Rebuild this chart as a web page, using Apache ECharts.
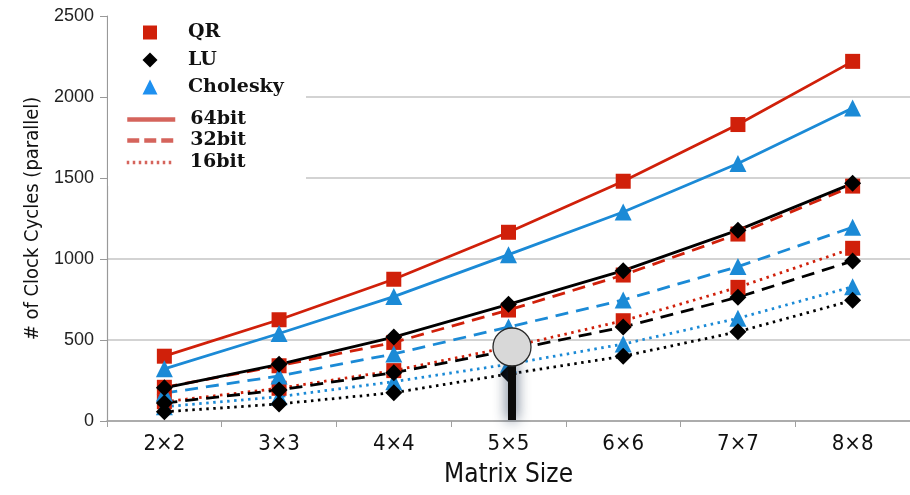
<!DOCTYPE html>
<html>
<head>
<meta charset="utf-8">
<script src="https://cdn.jsdelivr.net/npm/echarts@6/dist/echarts.min.js"></script>
<style>html,body{margin:0;padding:0;background:#fff}#c{width:910px;height:495px}</style>
</head>
<body>
<div id="c"></div>
<script>
var categories = ['2×2', '3×3', '4×4', '5×5', '6×6', '7×7', '8×8'];
var yTicks = [0, 500, 1000, 1500, 2000, 2500];

var qr64   = [400, 625, 875, 1165, 1480, 1830, 2220];
var chol64 = [322, 540, 768, 1027, 1290, 1590, 1932];
var lu64   = [205, 350, 518, 720, 928, 1178, 1467];
var qr32   = [208, 341, 485, 685, 901, 1154, 1450];
var chol32 = [172, 278, 414, 580, 747, 953, 1196];
var lu32   = [111, 191, 298, 435, 580, 764, 988];
var qr16   = [119, 202, 311, 455, 619, 825, 1066];
var chol16 = [88, 150, 243, 350, 475, 634, 829];
var lu16   = [57, 105, 175, 290, 400, 551, 745];

var RED = '#D0200A', BLUE = '#1B8AD6', BLACK = '#000000', LEGLINE = '#D5645C';
var narrow = "'Liberation Sans Narrow','DejaVu Sans Condensed','Liberation Sans',sans-serif";

function s(name, data, color, sym, size, type) {
  var dash = type === 'dashed' ? [13, 8] : (type === 'dotted' ? [2.5, 4.5] : 'solid');
  return {
    name: name, type: 'line', data: data, symbol: sym, symbolSize: size,
    itemStyle: { color: color },
    lineStyle: { color: color, width: 2.8, type: dash },
    z: 2
  };
}

var series = [
  s('QR16', qr16, RED, 'rect', 15, 'dotted'),
  s('Chol16', chol16, BLUE, 'triangle', 17, 'dotted'),
  s('LU16', lu16, BLACK, 'diamond', 17, 'dotted'),
  s('QR32', qr32, RED, 'rect', 15, 'dashed'),
  s('Chol32', chol32, BLUE, 'triangle', 17, 'dashed'),
  s('LU32', lu32, BLACK, 'diamond', 17, 'dashed'),
  s('QR64', qr64, RED, 'rect', 15, 'solid'),
  s('Chol64', chol64, BLUE, 'triangle', 17, 'solid'),
  s('LU64', lu64, BLACK, 'diamond', 17, 'solid'),
  { name: 'QR', type: 'line', data: [], symbol: 'rect', itemStyle: { color: RED } },
  { name: 'LU', type: 'line', data: [], symbol: 'diamond', itemStyle: { color: BLACK } },
  { name: 'Cholesky', type: 'line', data: [], symbol: 'triangle', itemStyle: { color: '#1E90F0' } },
  { name: '64bit', type: 'line', data: [], symbol: 'none', itemStyle: { color: LEGLINE, opacity: 0 }, lineStyle: { color: LEGLINE, width: 4, type: 'solid' } },
  { name: '32bit', type: 'line', data: [], symbol: 'none', itemStyle: { color: LEGLINE, opacity: 0 }, lineStyle: { color: LEGLINE, width: 4, type: [12, 5] } },
  { name: '16bit', type: 'line', data: [], symbol: 'none', itemStyle: { color: LEGLINE, opacity: 0 }, lineStyle: { color: LEGLINE, width: 3, type: [2.5, 3.5] } }
];

var legTxt = { fontFamily: "'DejaVu Serif','Liberation Serif',serif", fontWeight: 'bold', fontSize: 19, color: '#111' };
function symLegend(name, icon, cy, sz) {
  return {
    data: [{ name: name, icon: icon }], left: 150 - sz / 2, top: cy - sz / 2,
    itemWidth: sz, itemHeight: sz, padding: 0, selectedMode: false,
    textStyle: Object.assign({ padding: [0, 0, 0, 188 - 150 - sz / 2 - 5] }, legTxt)
  };
}
function lineLegend(name, cy, w) {
  return {
    data: [name], left: 125, top: cy - 7, itemWidth: 48, itemHeight: 14, padding: 0, selectedMode: false,
    lineStyle: { width: w },
    textStyle: Object.assign({ padding: [0, 0, 0, 188 - 173 - 5] }, legTxt)
  };
}

var option = {
  animation: false,
  backgroundColor: '#fff',
  grid: { left: 107, top: 16, width: 805, bottom: 74, containLabel: false },
  legend: [
    symLegend('QR', 'rect', 30, 14),
    symLegend('LU', 'diamond', 58, 15),
    symLegend('Cholesky', 'triangle', 85, 15),
    lineLegend('64bit', 117, 4.5),
    lineLegend('32bit', 138, 4.5),
    lineLegend('16bit', 160, 3.5)
  ],
  xAxis: {
    type: 'category', data: categories, boundaryGap: true,
    axisLine: { lineStyle: { color: '#a0a0a0', width: 1.5 } },
    axisTick: { show: true, length: 6, lineStyle: { color: '#a0a0a0' } },
    axisLabel: { fontFamily: narrow, fontSize: 22, color: '#111', margin: 12 },
    name: 'Matrix Size', nameLocation: 'middle', nameGap: 41,
    nameTextStyle: { fontFamily: narrow, fontSize: 26, color: '#111' }
  },
  yAxis: {
    type: 'value', min: yTicks[0], max: yTicks[yTicks.length - 1], interval: 500,
    axisLine: { show: true, lineStyle: { color: '#999', width: 1.2 } },
    axisTick: { show: true, length: 7, lineStyle: { color: '#999' } },
    axisLabel: { fontFamily: "'Liberation Sans',Arial,sans-serif", fontSize: 18, color: '#222', margin: 13,
      formatter: function (v) { return String(v); } },
    splitLine: { show: true, lineStyle: { color: ['#c4c4c4', '#c4c4c4', '#c4c4c4', '#c4c4c4', '#c4c4c4', 'rgba(0,0,0,0)'], width: 1.5 } },
    name: '# of Clock Cycles (parallel)', nameLocation: 'middle', nameGap: 58,
    nameTextStyle: { fontFamily: narrow, fontSize: 20, color: '#111' }
  },
  graphic: [
    { type: 'rect', shape: { x: 108, y: 14, width: 198, height: 172 }, style: { fill: '#fff' }, z: 1, silent: true },
    { type: 'rect', shape: { x: 508, y: 362, width: 8, height: 58 }, style: { fill: '#0a0a0a', shadowBlur: 14, shadowColor: 'rgba(30,50,80,0.85)' }, z: 50 },
    { type: 'circle', shape: { cx: 512, cy: 347, r: 19 }, style: { fill: '#d8d8d8', stroke: '#2a2a2a', lineWidth: 1.3 }, z: 51 }
  ],
  series: series
};

var chart = echarts.init(document.getElementById('c'), null, { renderer: 'canvas' });
chart.setOption(option);
</script>
</body>
</html>
